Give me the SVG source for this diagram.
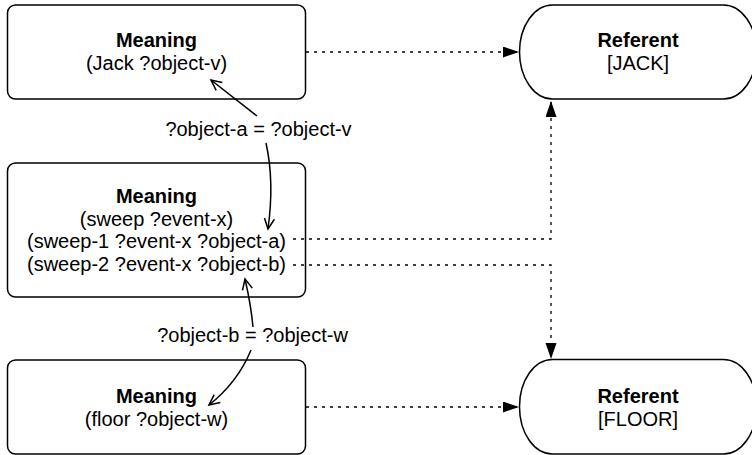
<svg xmlns="http://www.w3.org/2000/svg" width="752" height="455" viewBox="0 0 752 455">
<style>
.box{fill:#fff;stroke:#000;stroke-width:1.5}
.t{font-family:"Liberation Sans",Arial,Helvetica,sans-serif;font-size:20px;fill:#000;text-anchor:middle}
.b{font-weight:bold}
.dot{fill:none;stroke:#000;stroke-width:1.3;stroke-dasharray:3 5}
.cur{fill:none;stroke:#000;stroke-width:1.5}
</style>
<defs>
<marker id="block" markerWidth="17" markerHeight="12" refX="16" refY="5.5" orient="auto" markerUnits="userSpaceOnUse"><path d="M0,0 L16,5.5 L0,11 Z" fill="#000" stroke="none"/></marker>
<marker id="open" markerWidth="14" markerHeight="14" refX="11.5" refY="6" orient="auto" markerUnits="userSpaceOnUse"><path d="M1,1 L11.5,6 L1,11" fill="none" stroke="#000" stroke-width="1.5"/></marker>
</defs>
<g id="meaning-jack">
<rect class="box" x="7.5" y="5" width="298" height="94" rx="8" ry="8"/>
<text class="t b" x="156.5" y="47">Meaning</text>
<text class="t" x="156.5" y="70">(Jack ?object-v)</text>
</g>
<g id="meaning-sweep">
<rect class="box" x="7.5" y="163" width="298" height="134" rx="8" ry="8"/>
<text class="t b" x="156.5" y="203">Meaning</text>
<text class="t" x="156.5" y="225.5">(sweep ?event-x)</text>
<text class="t" x="156.5" y="248">(sweep-1 ?event-x ?object-a)</text>
<text class="t" x="156.5" y="270.5">(sweep-2 ?event-x ?object-b)</text>
</g>
<g id="meaning-floor">
<rect class="box" x="7.5" y="360" width="298" height="94" rx="8" ry="8"/>
<text class="t b" x="156.5" y="402.5">Meaning</text>
<text class="t" x="156.5" y="425.5">(floor ?object-w)</text>
</g>
<g id="referent-jack">
<rect class="box" x="519.5" y="5" width="237" height="94" rx="33" ry="47"/>
<text class="t b" x="638" y="47">Referent</text>
<text class="t" x="638" y="70">[JACK]</text>
</g>
<g id="referent-floor">
<rect class="box" x="519.5" y="359.5" width="237" height="94.5" rx="33" ry="47"/>
<text class="t b" x="638" y="402.5">Referent</text>
<text class="t" x="638" y="425.5">[FLOOR]</text>
</g>
<g id="labels">
<text class="t" x="258.5" y="135.5">?object-a = ?object-v</text>
<text class="t" x="252.5" y="342">?object-b = ?object-w</text>
</g>
<g id="connectors">
<path class="dot" d="M306,52 H519" marker-end="url(#block)"/>
<path class="dot" d="M306,407 H519" marker-end="url(#block)"/>
<path class="dot" d="M293,239 H551 V101" marker-end="url(#block)"/>
<path class="dot" d="M293,265 H551 V359" marker-end="url(#block)"/>
<path class="cur" d="M257,116 L211,80" marker-end="url(#open)"/>
<path class="cur" d="M266,143 C272,170 272,200 268,229" marker-end="url(#open)"/>
<path class="cur" d="M253,327 C251,305 248,292 245,279" marker-end="url(#open)"/>
<path class="cur" d="M251,350 C242,372 228,390 209,405" marker-end="url(#open)"/>
</g>
</svg>
